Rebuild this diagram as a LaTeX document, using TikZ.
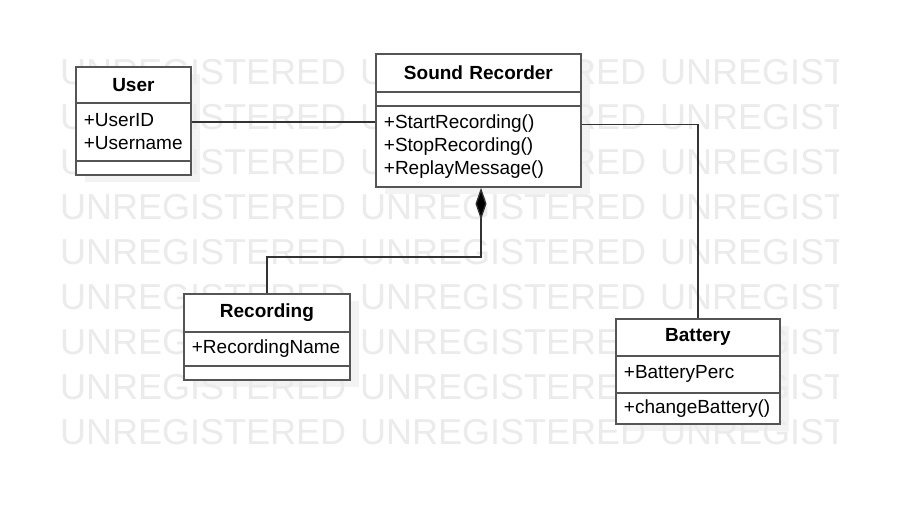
\documentclass[tikz,border=0pt]{standalone}
\usepackage{fontspec}
\setmainfont{Liberation Sans}
\usetikzlibrary{arrows.meta}
\definecolor{boxline}{HTML}{555555}
\definecolor{wmark}{HTML}{EBEBEB}
\definecolor{shadowgray}{HTML}{F3F3F3}

\begin{document}
\begin{tikzpicture}[x=1pt,y=-1pt,
  part/.style={draw=boxline, line width=1.8pt, fill=white, inner xsep=8pt, inner ysep=0pt, anchor=north west, align=left, font=\fontsize{19}{23}\selectfont},
  title/.style={part, align=center, font=\bfseries\fontsize{19}{23}\selectfont},
  link/.style={draw=black!80, line width=1.3pt},
  watermark/.style={text=wmark, font=\fontsize{36}{36}\selectfont, anchor=west, inner sep=0pt}]
\useasboundingbox[fill=white] (0,0) rectangle (901,507);

% shadows
\fill[shadowgray] (85,74) rectangle (200,182);
\fill[shadowgray] (385,61) rectangle (590,194);
\fill[shadowgray] (193,301) rectangle (359,387);
\fill[shadowgray] (625,326) rectangle (789,431);

% watermark
\begin{scope}
\clip (0,0) rectangle (838,507);
\foreach \row in {0,...,8} {
  \foreach \col in {0,1,2} {
    \node[watermark] (wm-\row-\col) at (60+300*\col, 72+45*\row) {UNREGISTERED};
  }
}
\end{scope}

% User
\node[title, text width=99pt, minimum height=36pt] (user) at (75,66) {User};
\node[part, text width=99pt, minimum height=58pt] (userattr) at (75,102) {+UserID\\+Username};
\node[part, text width=99pt, minimum height=14pt] (userops) at (75,160) {};

% Sound Recorder
\node[title, text width=189pt, minimum height=38pt] (recorder) at (375,53) {Sound Recorder};
\node[part, text width=189pt, minimum height=14pt] (recorderattr) at (375,91) {};
\node[part, text width=189pt, minimum height=81pt] (recorderops) at (375,105) {+StartRecording()\\+StopRecording()\\+ReplayMessage()};

% Recording
\node[title, text width=150pt, minimum height=38pt] (recording) at (183,293) {Recording};
\node[part, text width=150pt, minimum height=34pt] (recordingattr) at (183,331) {+RecordingName};
\node[part, text width=150pt, minimum height=14pt] (recordingops) at (183,365) {};

% Battery
\node[title, text width=148pt, minimum height=37pt] (battery) at (615,318) {Battery};
\node[part, text width=148pt, minimum height=37pt] (batteryattr) at (615,355) {+BatteryPerc};
\node[part, text width=148pt, minimum height=31pt] (batteryops) at (615,392) {+changeBattery()};

% links
\coordinate (ua) at ([yshift=10pt]userattr.east);
\draw[link] (ua) -- (ua -| recorderops.west);

\coordinate (ro) at ([yshift=22pt]recorderops.east);
\draw[link] (ro) -| (battery.north);

\coordinate (bend) at (481,257);
\draw[link, -{Diamond[length=32pt, width=11pt, fill=black]}] (recording.north) |- (bend) -- (bend |- recorderops.south);

\end{tikzpicture}
\end{document}
